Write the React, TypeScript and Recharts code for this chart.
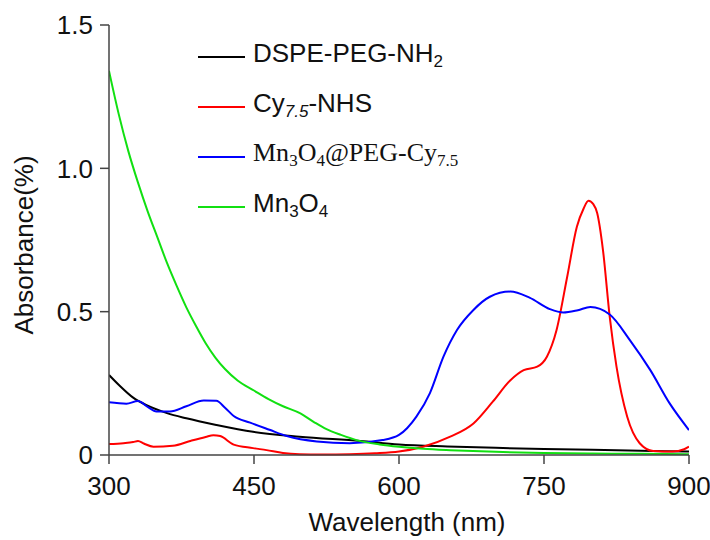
import React from 'react'
import {
  LineChart,
  Line,
  XAxis,
  YAxis,
  Legend,
} from 'recharts'

// wavelength (nm) / absorbance pairs
const dspeNm = [300, 310, 325, 340, 360, 380, 411, 449, 497, 560, 600, 650, 700, 750, 800, 850, 900]
const dspeAbs = [0.279, 0.245, 0.2, 0.172, 0.146, 0.128, 0.105, 0.081, 0.064, 0.049, 0.037, 0.03, 0.025, 0.021, 0.018, 0.015, 0.012]

const cyNm = [
  300, 315, 325, 330, 336, 346, 366, 385, 400, 408, 415, 429, 449, 463, 480, 497, 520, 549, 575,
  600, 625, 653, 677, 697, 715, 729, 743, 753, 763, 774, 784, 791, 796, 801, 805, 811, 818, 825,
  836, 849, 863, 883, 895, 900,
]
const cyAbs = [
  0.038, 0.041, 0.045, 0.049, 0.04, 0.029, 0.032, 0.05, 0.063, 0.069, 0.066, 0.036, 0.024, 0.017,
  0.007, 0.003, 0.002, 0.003, 0.006, 0.012, 0.029, 0.064, 0.11, 0.186, 0.26, 0.296, 0.308, 0.343,
  0.436, 0.622, 0.796, 0.86, 0.887, 0.875, 0.844, 0.715, 0.482, 0.308, 0.134, 0.041, 0.014, 0.012,
  0.02, 0.029,
]

const mnCyNm = [
  300, 318, 330, 340, 349, 363, 380, 398, 411, 420, 429, 446, 466, 484, 515, 549, 583, 600, 618,
  632, 646, 660, 677, 694, 715, 735, 756, 770, 785, 798, 818, 839, 860, 880, 900,
]
const mnCyAbs = [
  0.184, 0.179, 0.188, 0.168, 0.152, 0.152, 0.17, 0.19, 0.189, 0.165, 0.136, 0.113, 0.088, 0.066,
  0.047, 0.041, 0.052, 0.07, 0.134, 0.216, 0.343, 0.436, 0.506, 0.552, 0.57, 0.549, 0.509, 0.497,
  0.505, 0.516, 0.49, 0.4, 0.296, 0.18, 0.087,
]

const mnNm = [
  300, 310, 320, 330, 340, 350, 360, 370, 380, 390, 400, 410, 420, 433, 450, 465, 480, 498, 512,
  525, 540, 556, 580, 600, 625, 653, 700, 750, 800, 850, 900,
]
const mnAbs = [
  1.34, 1.19, 1.06, 0.95, 0.85, 0.76, 0.67, 0.59, 0.515, 0.45, 0.39, 0.34, 0.3, 0.26, 0.225, 0.195,
  0.17, 0.145, 0.115, 0.09, 0.07, 0.052, 0.037, 0.029, 0.022, 0.017, 0.011, 0.007, 0.005, 0.004,
  0.003,
]

const xTicks = [300, 450, 600, 750, 900]
const yTicks = [0, 0.5, 1.0, 1.5]

const toPoints = (nm: number[], abs: number[]) => nm.map((x, i) => ({ x, y: abs[i] }))

const SANS = 'Liberation Sans, Arial, sans-serif'
const SERIF = 'Liberation Serif, Times New Roman, serif'
const AXIS = '#444'

const series = [
  { key: 'dspe', color: '#000000', data: toPoints(dspeNm, dspeAbs) },
  { key: 'cy', color: '#ff0000', data: toPoints(cyNm, cyAbs) },
  { key: 'mncy', color: '#0000ff', data: toPoints(mnCyNm, mnCyAbs) },
  { key: 'mn', color: '#11e011', data: toPoints(mnNm, mnAbs) },
]

const sub = { fontSize: 17, verticalAlign: '-5px' as const }

const legendLabels: Record<string, React.ReactNode> = {
  dspe: (
    <span style={{ fontFamily: SANS }}>
      DSPE-PEG-NH<span style={sub}>2</span>
    </span>
  ),
  cy: (
    <span style={{ fontFamily: SANS }}>
      Cy<span style={{ ...sub, fontStyle: 'italic' }}>7.5</span>-NHS
    </span>
  ),
  mncy: (
    <span style={{ fontFamily: SERIF }}>
      Mn<span style={sub}>3</span>O<span style={sub}>4</span>@PEG-Cy<span style={sub}>7.5</span>
    </span>
  ),
  mn: (
    <span style={{ fontFamily: SANS }}>
      Mn<span style={sub}>3</span>O<span style={sub}>4</span>
    </span>
  ),
}

function renderLegend() {
  return (
    <div>
      {series.map((s) => (
        <div
          key={s.key}
          style={{ display: 'flex', alignItems: 'center', height: 50, whiteSpace: 'nowrap' }}
        >
          <span style={{ width: 47, height: 2, background: s.color, marginRight: 8 }} />
          <span style={{ fontSize: 26, color: '#111', lineHeight: '26px' }}>
            {legendLabels[s.key]}
          </span>
        </div>
      ))}
    </div>
  )
}

export default function App() {
  return (
    <div style={{ position: 'absolute', left: 0, top: 0, background: '#fff' }}>
      <LineChart
        width={710}
        height={540}
        margin={{ top: 25, right: 21, bottom: 0, left: 0 }}
      >
        <XAxis
          dataKey="x"
          type="number"
          domain={[300, 900]}
          ticks={xTicks}
          height={85}
          tickSize={9}
          tickMargin={13}
          stroke={AXIS}
          strokeWidth={1.5}
          tick={{ fontSize: 26, fontFamily: SANS, fill: '#111' }}
          allowDataOverflow
          label={{
            content: () => (
              <text x={407} y={531} textAnchor="middle" fontSize={26} fontFamily={SANS} fill="#111">
                Wavelength (nm)
              </text>
            ),
          }}
        />
        <XAxis
          xAxisId="top"
          orientation="top"
          type="number"
          domain={[300, 900]}
          height={0}
          tick={false}
          tickLine={false}
          stroke={AXIS}
          strokeWidth={1.5}
        />
        <YAxis
          type="number"
          domain={[0, 1.5]}
          ticks={yTicks}
          width={109}
          tickSize={9}
          tickMargin={7}
          stroke={AXIS}
          strokeWidth={1.5}
          tick={{ fontSize: 26, fontFamily: SANS, fill: '#111' }}
          tickFormatter={(v: number) => (v === 0 ? '0' : v.toFixed(1))}
          label={{
            content: () => (
              <text
                x={24}
                y={245}
                transform="rotate(-90, 24, 245)"
                textAnchor="middle"
                dominantBaseline="central"
                fontSize={26}
                fontFamily={SANS}
                fill="#111"
              >
                Absorbance(%)
              </text>
            ),
          }}
        />
        <YAxis
          yAxisId="right"
          orientation="right"
          type="number"
          domain={[0, 1.5]}
          width={0}
          tick={false}
          tickLine={false}
          stroke={AXIS}
          strokeWidth={1.5}
        />
        <Legend
          layout="horizontal"
          verticalAlign="middle"
          content={renderLegend}
          wrapperStyle={{ position: 'absolute', left: 198, top: 32, width: 320, height: 200 }}
        />
        {series.map((s) => (
          <Line
            key={s.key}
            data={s.data}
            dataKey="y"
            type="monotone"
            stroke={s.color}
            strokeWidth={2}
            dot={false}
            activeDot={false}
            isAnimationActive={false}
          />
        ))}
      </LineChart>
    </div>
  )
}
